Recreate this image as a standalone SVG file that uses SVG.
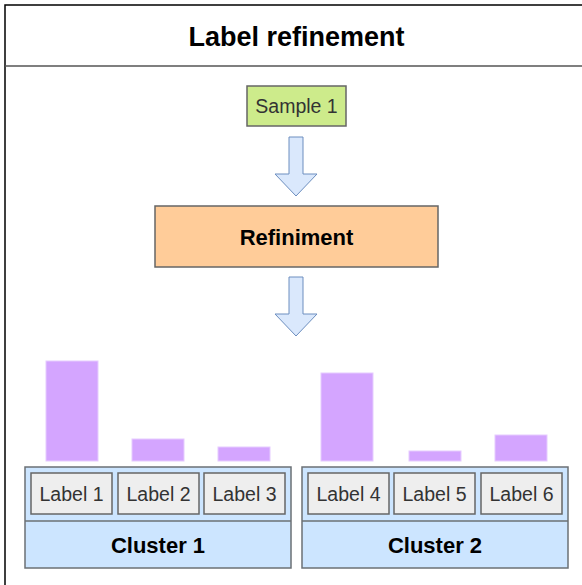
<svg xmlns="http://www.w3.org/2000/svg" width="582" height="585" viewBox="0 0 582 585">
<style>
text{font-family:"Liberation Sans",Arial,sans-serif;text-anchor:middle;dominant-baseline:central;fill:#000}
.bar{fill:#D4A5FF;stroke:#E6CCFF;stroke-width:1}
.lbl{fill:#EEEEEE;stroke:#666666;stroke-width:1.5}
.lbl-t{font-size:19.5px;fill:#333}
.clu{fill:#CCE5FF;stroke:#6b7075;stroke-width:1.5}
.clu-t{font-size:22px;font-weight:bold}
.arr{fill:#DAE8FC;stroke:#6C8EBF;stroke-width:1}
</style>
<rect width="582" height="585" fill="#fff"/>
<g id="frame">
<rect x="5" y="5" width="590" height="600" fill="none" stroke="#000" stroke-width="1.5"/>
<line x1="5" y1="66" x2="582" y2="66" stroke="#555" stroke-width="1.5"/>
<text x="296.5" y="37" font-size="27" font-weight="bold">Label refinement</text>
</g>
<g id="sample1">
<rect x="247" y="86" width="99" height="40" fill="#CDEB8B" stroke="#666" stroke-width="1.5"/>
<text x="296.5" y="106" font-size="19.5" style="fill:#333">Sample 1</text>
</g>
<g id="connectors">
<path class="arr" d="M289,137 H303 V174 H317 L296,196 L275,174 H289 Z"/>
<path class="arr" d="M289,277 H303 V314 H317 L296,336 L275,314 H289 Z"/>
</g>
<g id="refinement">
<rect x="155" y="206" width="283" height="61" fill="#FFCC99" stroke="#666" stroke-width="1.5"/>
<text x="296.5" y="237" font-size="22" font-weight="bold">Refiniment</text>
</g>
<g id="bars">
<rect class="bar" x="46" y="361" width="52" height="100"/>
<rect class="bar" x="132" y="439" width="52" height="22"/>
<rect class="bar" x="218" y="447" width="52" height="14"/>
<rect class="bar" x="321" y="373" width="52" height="88"/>
<rect class="bar" x="409" y="451" width="52" height="10"/>
<rect class="bar" x="495" y="435" width="52" height="26"/>
</g>
<g id="cluster1">
<rect class="clu" x="25" y="467" width="266" height="101"/>
<line x1="25" y1="521" x2="291" y2="521" stroke="#6b7075" stroke-width="1.5"/>
<text class="clu-t" x="158" y="545">Cluster 1</text>
</g>
<g id="label1"><rect class="lbl" x="31" y="473" width="81" height="41"/><text class="lbl-t" x="71.5" y="494">Label 1</text></g>
<g id="label2"><rect class="lbl" x="118" y="473" width="81" height="41"/><text class="lbl-t" x="158.5" y="494">Label 2</text></g>
<g id="label3"><rect class="lbl" x="204" y="473" width="81" height="41"/><text class="lbl-t" x="244.5" y="494">Label 3</text></g>
<g id="cluster2">
<rect class="clu" x="302" y="467" width="266" height="101"/>
<line x1="302" y1="521" x2="568" y2="521" stroke="#6b7075" stroke-width="1.5"/>
<text class="clu-t" x="435" y="545">Cluster 2</text>
</g>
<g id="label4"><rect class="lbl" x="308" y="473" width="81" height="41"/><text class="lbl-t" x="348.5" y="494">Label 4</text></g>
<g id="label5"><rect class="lbl" x="394" y="473" width="81" height="41"/><text class="lbl-t" x="434.5" y="494">Label 5</text></g>
<g id="label6"><rect class="lbl" x="481" y="473" width="81" height="41"/><text class="lbl-t" x="521.5" y="494">Label 6</text></g>
</svg>
